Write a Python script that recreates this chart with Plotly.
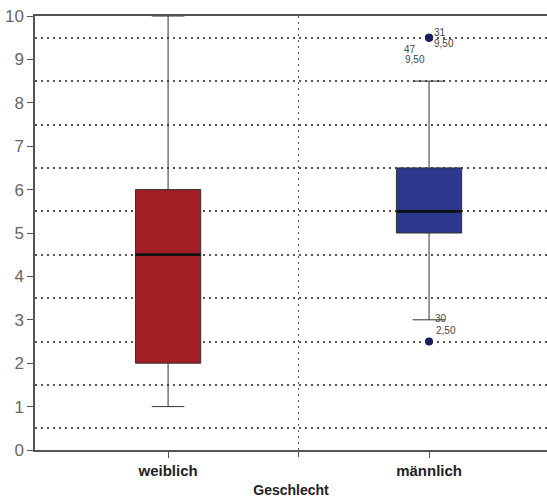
import plotly.graph_objects as go

categories = ["weiblich", "männlich"]
cat_pos = [0, 1]
q1 = [2.0, 5.0]
median = [4.5, 5.5]
q3 = [6.0, 6.5]
lower_fence = [1.0, 3.0]
upper_fence = [10.0, 8.5]
box_colors = ["#A31D24", "#2B388C"]

outlier_cat = [1, 1, 1]
outlier_vals = [9.5, 9.5, 2.5]
outlier_ids = ["31", "47", "30"]
outlier_labels = ["9,50", "9,50", "2,50"]

BOX_W = 0.25

fig = go.Figure()
for i in range(len(categories)):
    fig.add_trace(go.Box(
        x=[cat_pos[i]], q1=[q1[i]], median=[median[i]], q3=[q3[i]],
        lowerfence=[lower_fence[i]], upperfence=[upper_fence[i]],
        fillcolor=box_colors[i], line=dict(color="#333333", width=1),
        width=BOX_W, whiskerwidth=0.5, showlegend=False, hoverinfo="skip",
    ))
    # thick median line
    fig.add_trace(go.Scatter(
        x=[cat_pos[i] - BOX_W / 2, cat_pos[i] + BOX_W / 2], y=[median[i], median[i]],
        mode="lines", line=dict(color="#111111", width=2.8),
        showlegend=False, hoverinfo="skip",
    ))

fig.add_trace(go.Scatter(
    x=outlier_cat, y=outlier_vals, mode="markers",
    marker=dict(color="#1C1F5A", size=8), showlegend=False, hoverinfo="skip",
))

# outlier labels: (xshift id, yshift id, xshift value, yshift value)
offsets = [(11, 5, 15, -6), (-19, -12, -14, -22), (12, 23, 17, 11)]
for i in range(len(outlier_vals)):
    dxi, dyi, dxv, dyv = offsets[i]
    fig.add_annotation(x=outlier_cat[i], y=outlier_vals[i], text=outlier_ids[i],
                       xshift=dxi, yshift=dyi, showarrow=False, xanchor="center", yanchor="middle",
                       font=dict(size=10, color="#444444"))
    fig.add_annotation(x=outlier_cat[i], y=outlier_vals[i], text=outlier_labels[i],
                       xshift=dxv, yshift=dyv, showarrow=False, xanchor="center", yanchor="middle",
                       font=dict(size=10, color="#444444"))

fig.update_layout(
    width=547, height=498,
    margin=dict(l=35, r=0, t=16, b=48),
    paper_bgcolor="white", plot_bgcolor="white",
    font=dict(family="Liberation Sans, Arial, sans-serif", color="#444444"),
    xaxis=dict(
        range=[-0.51, 1.452], tickvals=cat_pos, ticktext=categories,
        showgrid=False, zeroline=False, showline=True, mirror=True, automargin=False,
        linecolor="#555555", linewidth=1.5,
        ticks="outside", ticklen=6, tickcolor="#555555",
        tickfont=dict(size=15, color="#222222", family="Liberation Sans, Arial, sans-serif", weight="bold"),
        minor=dict(tickvals=[0.5], showgrid=True, griddash="2px,4px", gridcolor="#555555",
                   gridwidth=1.4, ticks="outside", ticklen=5, tickcolor="#555555"),
        title=dict(text="<b>Geschlecht</b>", font=dict(size=14, color="#222222"), standoff=8),
    ),
    yaxis=dict(
        range=[0, 10], tickvals=list(range(0, 11)),
        showgrid=False, zeroline=False, showline=True, automargin=False,
        linecolor="#555555", linewidth=1.5,
        ticks="outside", ticklen=6, tickcolor="#555555",
        tickfont=dict(size=17, color="#666666"),
        minor=dict(tickvals=[k + 0.5 for k in range(10)], showgrid=True, griddash="2px,4px",
                   gridcolor="#555555", gridwidth=1.6, ticks=""),
    ),
)

fig.write_html("out.html", config={"displayModeBar": False},
               post_script="document.body.style.margin='0';")
